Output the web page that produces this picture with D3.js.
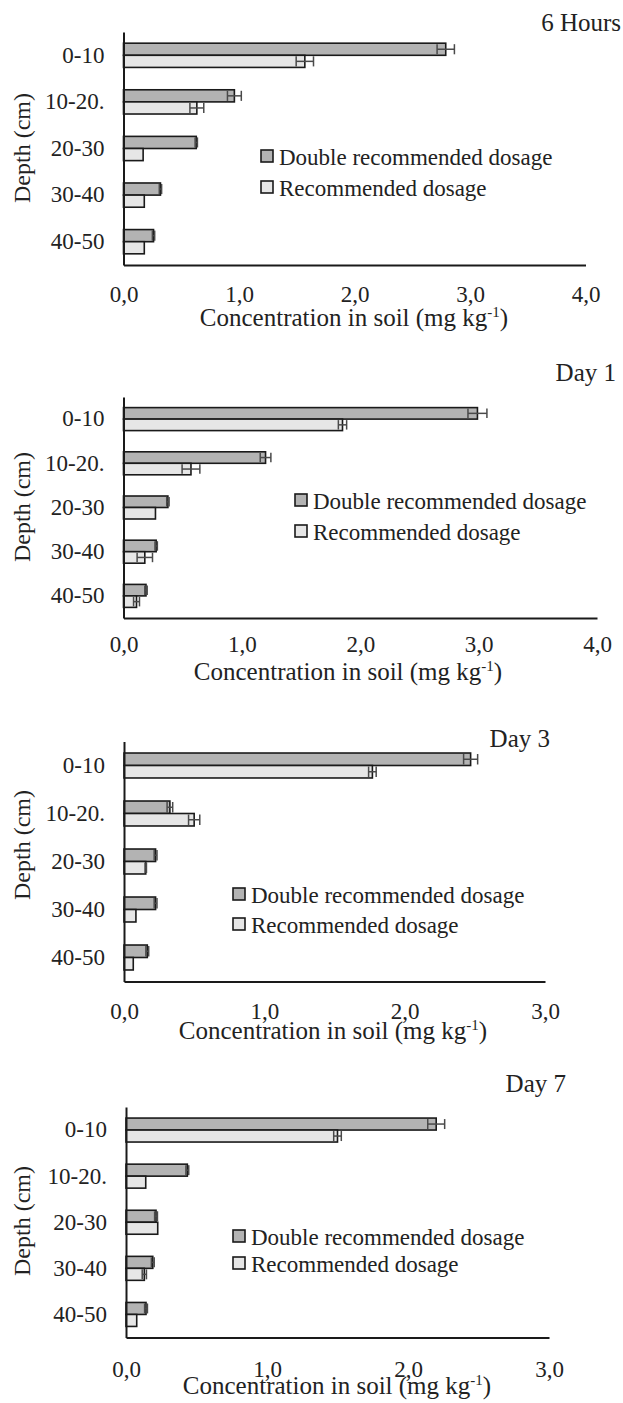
<!DOCTYPE html>
<html><head><meta charset="utf-8">
<script src="https://cdn.jsdelivr.net/npm/d3@7"></script>
<style>
html,body{margin:0;padding:0;background:#fff;}
svg{display:block;}
text{font-family:"Liberation Serif","Times New Roman",serif;fill:#222;}
</style></head>
<body>
<svg id="chart" width="623" height="1403"></svg>
<script>
// ---- data ----
const categories = ["0-10", "10-20.", "20-30", "30-40", "40-50"];
const seriesNames = ["Double recommended dosage", "Recommended dosage"];
const panelTitles = ["6 Hours", "Day 1", "Day 3", "Day 7"];
const xMaxValues = [4, 4, 3, 3];
const xTickValues = [[0,1,2,3,4],[0,1,2,3,4],[0,1,2,3],[0,1,2,3]];
const xLabel = "Concentration in soil (mg kg";
const xLabelSup = "-1";
const yLabel = "Depth (cm)";

const double6h    = [2.79, 0.96, 0.63, 0.32, 0.26];
const double6hErr = [0.075, 0.06, 0.01, 0.01, 0.01];
const rec6h       = [1.57, 0.635, 0.17, 0.18, 0.18];
const rec6hErr    = [0.075, 0.06, 0, 0, 0];

const doubleD1    = [2.99, 1.20, 0.375, 0.276, 0.19];
const doubleD1Err = [0.08, 0.045, 0.01, 0.01, 0.01];
const recD1       = [1.85, 0.57, 0.27, 0.18, 0.11];
const recD1Err    = [0.035, 0.075, 0, 0.065, 0.025];

const doubleD3    = [2.47, 0.327, 0.225, 0.225, 0.166];
const doubleD3Err = [0.05, 0.02, 0.01, 0.01, 0.01];
const recD3       = [1.77, 0.50, 0.155, 0.085, 0.066];
const recD3Err    = [0.027, 0.04, 0.005, 0, 0];

const doubleD7    = [2.20, 0.435, 0.213, 0.19, 0.142];
const doubleD7Err = [0.06, 0.01, 0.01, 0.01, 0.01];
const recD7       = [1.50, 0.14, 0.225, 0.13, 0.076];
const recD7Err    = [0.027, 0, 0, 0.015, 0];

const panelValues = [
  [[double6h, double6hErr], [rec6h, rec6hErr]],
  [[doubleD1, doubleD1Err], [recD1, recD1Err]],
  [[doubleD3, doubleD3Err], [recD3, recD3Err]],
  [[doubleD7, doubleD7Err], [recD7, recD7Err]]
];

// ---- layout / style ----
const layout = [
  {x0:123.5, x1:585.5, top:32,    bottom:265,    titleX:621, titleY:31,   tickPad:21, xlabX:354, xlabY:326,  legX:261, legY:[157,188],   depthY:148},
  {x0:123.5, x1:597,   top:397,   bottom:618,    titleX:616, titleY:381,  tickPad:18, xlabX:348, xlabY:680,  legX:295, legY:[501,532],   depthY:507},
  {x0:124,   x1:545,   top:741.5, bottom:981.5,  titleX:550, titleY:747,  tickPad:21, xlabX:333, xlabY:1039, legX:233, legY:[895,925],   depthY:845},
  {x0:126,   x1:549,   top:1107,  bottom:1337.5, titleX:566, titleY:1092, tickPad:23, xlabX:337, xlabY:1394, legX:233, legY:[1237,1264], depthY:1221}
];
const fills = ["#b3b3b3", "#e6e6e6"];
const fontSize = 23;

const svg = d3.select("#chart");
svg.append("rect").attr("width",623).attr("height",1403).attr("fill","#fff");

layout.forEach((L, pi) => {
  const g = svg.append("g");
  const x = d3.scaleLinear().domain([0, xMaxValues[pi]]).range([L.x0, L.x1]);
  const y = d3.scaleBand().domain(categories).range([L.top, L.bottom]);
  const barH = y.bandwidth() * 0.26;
  const ySub = d3.scaleBand().domain(seriesNames).range([-barH, barH]);

  // bars
  seriesNames.forEach((s, si) => {
    const vals = panelValues[pi][si][0];
    const errs = panelValues[pi][si][1];
    const data = categories.map((c, i) => ({c, v: vals[i], e: errs[i]}));
    const cy = d => y(d.c) + y.bandwidth()/2 + ySub(s);
    g.selectAll(null).data(data).enter().append("rect")
      .attr("x", x(0)).attr("y", cy)
      .attr("width", d => x(d.v) - x(0)).attr("height", ySub.bandwidth())
      .attr("fill", fills[si]).attr("stroke", "#1a1a1a").attr("stroke-width", 1.6);
    // error bars
    const eg = g.selectAll(null).data(data.filter(d => d.e > 0)).enter().append("g")
      .attr("stroke", "#4a4a4a").attr("stroke-width", 1.5).attr("fill","none");
    eg.append("line").attr("x1", d => x(d.v - d.e)).attr("x2", d => x(d.v + d.e))
      .attr("y1", d => cy(d) + ySub.bandwidth()/2).attr("y2", d => cy(d) + ySub.bandwidth()/2);
    eg.append("line").attr("x1", d => x(d.v - d.e)).attr("x2", d => x(d.v - d.e))
      .attr("y1", d => cy(d) + 1).attr("y2", d => cy(d) + ySub.bandwidth() - 1);
    eg.append("line").attr("x1", d => x(d.v + d.e)).attr("x2", d => x(d.v + d.e))
      .attr("y1", d => cy(d) + 1).attr("y2", d => cy(d) + ySub.bandwidth() - 1);
  });

  // axes
  const fmt = d => d3.format(".1f")(d).replace(".", ",");
  const xa = g.append("g").attr("transform", `translate(0,${L.bottom})`)
    .call(d3.axisBottom(x).tickValues(xTickValues[pi]).tickFormat(fmt).tickSize(0).tickPadding(L.tickPad));
  xa.select(".domain").attr("stroke", "#1a1a1a").attr("stroke-width", 2);
  xa.selectAll("text").attr("font-size", fontSize).attr("font-family", "Liberation Serif").attr("fill", "#222");

  const ya = g.append("g").attr("transform", `translate(${L.x0},0)`)
    .call(d3.axisLeft(y).tickSize(0).tickPadding(19));
  ya.select(".domain").attr("stroke", "#1a1a1a").attr("stroke-width", 2);
  ya.selectAll("text").attr("font-size", fontSize).attr("font-family", "Liberation Serif").attr("fill", "#222");

  // title
  g.append("text").attr("x", L.titleX).attr("y", L.titleY).attr("text-anchor", "end")
    .attr("font-size", 25).text(panelTitles[pi]);

  // x label
  const xl = g.append("text").attr("x", L.xlabX).attr("y", L.xlabY).attr("text-anchor", "middle")
    .attr("font-size", 25);
  xl.append("tspan").text(xLabel);
  xl.append("tspan").attr("dy", -9).attr("font-size", 15).text(xLabelSup);
  xl.append("tspan").attr("dy", 9).text(")");

  // y label
  g.append("text").attr("transform", `translate(30,${L.depthY}) rotate(-90)`)
    .attr("text-anchor", "middle").attr("font-size", 24).text(yLabel);

  // legend
  seriesNames.forEach((s, si) => {
    g.append("rect").attr("x", L.legX).attr("y", L.legY[si] - 7).attr("width", 12).attr("height", 12)
      .attr("fill", fills[si]).attr("stroke", "#1a1a1a").attr("stroke-width", 1.6);
    g.append("text").attr("x", L.legX + 18).attr("y", L.legY[si]).attr("dy", "0.33em")
      .attr("font-size", fontSize).text(s);
  });
});
</script>
</body></html>
